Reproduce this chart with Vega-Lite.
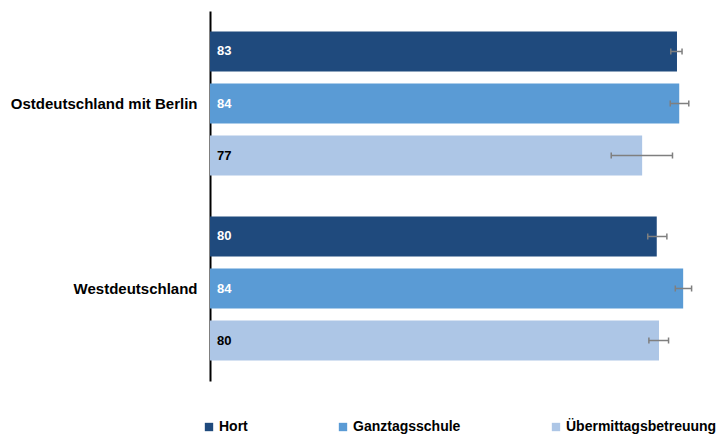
{
  "$schema": "https://vega.github.io/schema/vega-lite/v6.json",
  "autosize": {"type": "none"},
  "width": 517,
  "height": 370,
  "padding": {"left": 210, "top": 11, "right": 0, "bottom": 55},
  "background": "white",
  "config": {"view": {"stroke": null}, "font": "Liberation Sans"},
  "data": {"values": [
    {"region": "Ostdeutschland mit Berlin", "series": "Hort", "value": 83.1, "lo": 82.0, "hi": 84.0, "label": "83"},
    {"region": "Ostdeutschland mit Berlin", "series": "Ganztagsschule", "value": 83.5, "lo": 81.9, "hi": 85.2, "label": "84"},
    {"region": "Ostdeutschland mit Berlin", "series": "Übermittagsbetreuung", "value": 76.9, "lo": 71.4, "hi": 82.3, "label": "77"},
    {"region": "Westdeutschland", "series": "Hort", "value": 79.5, "lo": 77.9, "hi": 81.3, "label": "80"},
    {"region": "Westdeutschland", "series": "Ganztagsschule", "value": 84.2, "lo": 82.8, "hi": 85.7, "label": "84"},
    {"region": "Westdeutschland", "series": "Übermittagsbetreuung", "value": 79.9, "lo": 78.1, "hi": 81.6, "label": "80"}
  ]},
  "encoding": {
    "y": {
      "field": "region", "type": "nominal", "sort": ["Ostdeutschland mit Berlin", "Westdeutschland"],
      "scale": {"paddingInner": 0, "paddingOuter": 0},
      "axis": {"title": null, "ticks": false, "domainColor": "black", "domainWidth": 2, "labelFont": "Liberation Sans", "labelFontWeight": "bold", "labelFontSize": 15, "labelColor": "black", "labelPadding": 13, "labelLimit": 300}
    },
    "yOffset": {
      "field": "series", "type": "nominal",
      "scale": {"domain": ["Hort", "Ganztagsschule", "Übermittagsbetreuung"], "paddingInner": 0.2308, "paddingOuter": 0.394}
    }
  },
  "layer": [
    {
      "mark": {"type": "bar"},
      "encoding": {
        "x": {"field": "value", "type": "quantitative", "scale": {"domain": [0, 92], "nice": false, "zero": true}, "axis": null},
        "color": {
          "field": "series", "type": "nominal",
          "scale": {"domain": ["Hort", "Ganztagsschule", "Übermittagsbetreuung"], "range": ["#1f4a7d", "#5a9bd5", "#adc6e6"]},
          "legend": {
            "title": null, "orient": "none", "direction": "horizontal", "legendX": -8, "legendY": 409,
            "symbolType": "square", "symbolSize": 70, "symbolStrokeWidth": 0, "symbolOpacity": 1,
            "labelFont": "Liberation Sans", "labelFontWeight": "bold", "labelFontSize": 14, "labelColor": "black",
            "columnPadding": 88, "labelOffset": 3, "labelLimit": 300
          }
        }
      }
    },
    {
      "mark": {"type": "text", "align": "left", "baseline": "middle", "dx": 7, "fontWeight": "bold", "fontSize": 13, "font": "Liberation Sans"},
      "encoding": {
        "x": {"datum": 0, "type": "quantitative"},
        "text": {"field": "label"},
        "color": {"condition": {"test": "datum.series === 'Übermittagsbetreuung'", "value": "black"}, "value": "white"}
      }
    },
    {
      "mark": {"type": "rule", "color": "#7f7f7f", "strokeWidth": 1.5},
      "encoding": {
        "x": {"field": "lo", "type": "quantitative"},
        "x2": {"field": "hi"}
      }
    },
    {
      "mark": {"type": "tick", "color": "#7f7f7f", "size": 6, "thickness": 1.5, "opacity": 1},
      "encoding": {"x": {"field": "lo", "type": "quantitative"}}
    },
    {
      "mark": {"type": "tick", "color": "#7f7f7f", "size": 6, "thickness": 1.5, "opacity": 1},
      "encoding": {"x": {"field": "hi", "type": "quantitative"}}
    }
  ]
}
